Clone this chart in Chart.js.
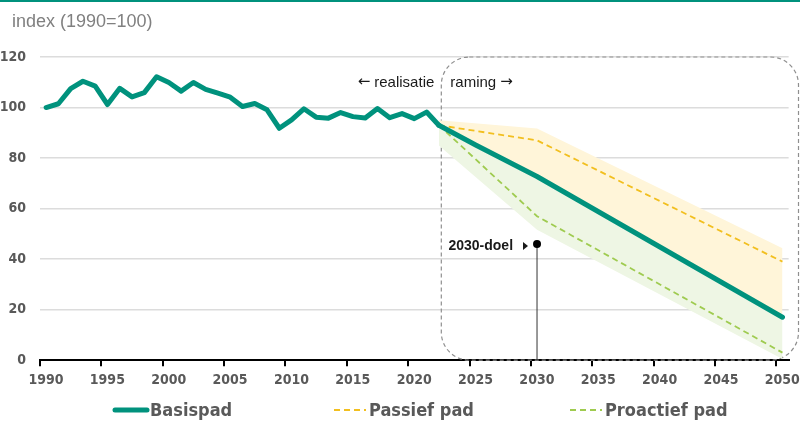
<!DOCTYPE html>
<html>
<head>
<meta charset="utf-8">
<script src="https://cdn.jsdelivr.net/npm/chart.js@4"></script>
<style>
  html, body { margin: 0; padding: 0; background: #fff; }
  canvas { display: block; }
</style>
</head>
<body>
<canvas id="chart" width="800" height="421"></canvas>
<script>
// realisatie 1990-2022
const histYears = [1990, 1991, 1992, 1993, 1994, 1995, 1996, 1997, 1998, 1999,
  2000, 2001, 2002, 2003, 2004, 2005, 2006, 2007, 2008, 2009,
  2010, 2011, 2012, 2013, 2014, 2015, 2016, 2017, 2018, 2019,
  2020, 2021, 2022];
const histValues = [100, 101.5, 107.5, 110.4, 108.5, 101.2, 107.6, 104.2, 105.9, 112.2,
  109.9, 106.5, 109.9, 107.2, 105.7, 104.1, 100.4, 101.6, 99.1, 91.8,
  95.1, 99.5, 96.2, 95.8, 98.0, 96.4, 95.9, 99.6, 96.0, 97.6,
  95.6, 98.2, 93.0];

// raming
const projYears = [2022, 2025, 2030, 2050];
const basisValues = [93, 85.2, 72.7, 17];
const scenYears = [2022, 2030, 2050];
const passiefValues = [93, 87, 39];
const proactiefValues = [93, 57, 3];
const passiefUpper = [95, 91.7, 44.3];
const proactiefLower = [85, 51.6, 0.5];

const doelYear = 2030;
const doelValue = 46;

const tickYears = [1990, 1995, 2000, 2005, 2010, 2015, 2020, 2025, 2030, 2035, 2040, 2045, 2050];

const TEAL = '#00927d';
const YELLOW = '#f2bf1f';
const GREEN = '#9fcb50';
const NARROW = "'Liberation Sans Narrow', 'DejaVu Sans Condensed', 'Arial Narrow', sans-serif";
const SANS = "'Liberation Sans', Arial, sans-serif";

function pts(xs, ys) {
  return xs.map((x, i) => ({ x: x, y: ys[i] }));
}

const decor = {
  id: 'decor',
  beforeDatasetsDraw(chart) {
    // dashed rounded box around the raming
    const ctx = chart.ctx;
    const xs = chart.scales.x, ys = chart.scales.y;
    const l = xs.getPixelForValue(2022.2);
    const r = chart.width - 1.5;
    const t = ys.getPixelForValue(120);
    const b = ys.getPixelForValue(0);
    const rad = 28;
    ctx.save();
    ctx.strokeStyle = '#8f8f8f';
    ctx.lineWidth = 1.2;
    ctx.setLineDash([4, 3]);
    ctx.beginPath();
    ctx.moveTo(l + rad, t);
    ctx.arcTo(r, t, r, b, rad);
    ctx.arcTo(r, b, l, b, rad);
    ctx.arcTo(l, b, l, t, rad);
    ctx.arcTo(l, t, r, t, rad);
    ctx.closePath();
    ctx.stroke();
    ctx.restore();
  },
  afterDraw(chart) {
    const ctx = chart.ctx;
    const xs = chart.scales.x, ys = chart.scales.y;
    ctx.save();

    // top rule
    ctx.fillStyle = TEAL;
    ctx.fillRect(0, 0, chart.width, 2);

    // title
    ctx.fillStyle = '#808080';
    ctx.font = '18px ' + SANS;
    ctx.textBaseline = 'middle';
    ctx.textAlign = 'left';
    ctx.fillText('index (1990=100)', 12, 22);

    // realisatie / raming
    const bx = xs.getPixelForValue(2022.2);
    ctx.fillStyle = '#1a1a1a';
    ctx.font = '15px ' + SANS;
    ctx.textAlign = 'right';
    ctx.fillText('realisatie', bx - 7, 83);
    const w1 = ctx.measureText('realisatie').width;
    ctx.textAlign = 'left';
    ctx.fillText('raming', bx + 9, 83);
    const w2 = ctx.measureText('raming ').width;
    ctx.font = '15px "DejaVu Sans", sans-serif';
    ctx.textAlign = 'right';
    ctx.fillText('\u2190', bx - 11 - w1, 82);
    ctx.textAlign = 'left';
    ctx.fillText('\u2192', bx + 9 + w2, 82);

    // 2030-doel label
    const dx = xs.getPixelForValue(doelYear);
    const dy = ys.getPixelForValue(doelValue);
    ctx.font = 'bold 14px ' + SANS;
    ctx.textAlign = 'right';
    ctx.fillText('2030-doel', dx - 24, dy + 2);
    ctx.beginPath();
    ctx.moveTo(dx - 14, dy - 2);
    ctx.lineTo(dx - 9, dy + 2);
    ctx.lineTo(dx - 14, dy + 6);
    ctx.closePath();
    ctx.fill();

    // legend
    const items = [0, 2, 3];
    const lx = [113, 332, 568];
    const ly = 410;
    ctx.font = 'bold 18px ' + NARROW;
    ctx.textAlign = 'left';
    items.forEach((di, i) => {
      const ds = chart.data.datasets[di];
      ctx.strokeStyle = ds.borderColor;
      ctx.lineWidth = ds.borderWidth;
      ctx.setLineDash(ds.borderDash || []);
      ctx.lineCap = ds.borderDash ? 'butt' : 'round';
      ctx.beginPath();
      ctx.moveTo(lx[i] + 2, ly);
      ctx.lineTo(lx[i] + 34, ly);
      ctx.stroke();
      ctx.fillStyle = '#595959';
      ctx.fillText(ds.label, lx[i] + 37, ly + 1);
    });
    ctx.restore();
  }
};

new Chart(document.getElementById('chart'), {
  type: 'line',
  data: {
    datasets: [
      {
        label: 'Basispad',
        data: pts(histYears, histValues),
        borderColor: TEAL,
        borderWidth: 5,
        borderCapStyle: 'round',
        borderJoinStyle: 'round',
        pointRadius: 0
      },
      {
        label: 'Basispad raming',
        data: pts(projYears, basisValues),
        borderColor: TEAL,
        borderWidth: 5,
        borderCapStyle: 'round',
        borderJoinStyle: 'round',
        pointRadius: 0
      },
      {
        label: 'Passief pad',
        data: pts(scenYears, passiefValues),
        borderColor: YELLOW,
        borderWidth: 1.8,
        borderDash: [6, 4],
        pointRadius: 0
      },
      {
        label: 'Proactief pad',
        data: pts(scenYears, proactiefValues),
        borderColor: GREEN,
        borderWidth: 1.8,
        borderDash: [6, 4],
        pointRadius: 0
      },
      {
        label: 'band passief',
        data: pts(scenYears, passiefUpper),
        borderWidth: 0,
        backgroundColor: '#fff5d9',
        fill: 1,
        pointRadius: 0
      },
      {
        label: 'band proactief',
        data: pts(scenYears, proactiefLower),
        borderWidth: 0,
        backgroundColor: '#eef6e4',
        fill: 1,
        pointRadius: 0
      },
      {
        label: '2030-doel',
        data: [{ x: doelYear, y: 0 }, { x: doelYear, y: doelValue }],
        borderColor: '#333333',
        borderWidth: 1,
        pointRadius: [0, 4],
        pointBackgroundColor: '#000',
        pointBorderWidth: 0
      }
    ]
  },
  options: {
    responsive: false,
    animation: false,
    devicePixelRatio: 1,
    layout: { padding: { left: 0, right: 8, top: 57, bottom: 26 } },
    plugins: {
      legend: { display: false },
      tooltip: { enabled: false }
    },
    scales: {
      x: {
        type: 'linear',
        min: 1989.5,
        max: 2050.5,
        afterBuildTicks: (axis) => {
          axis.ticks = tickYears.map(y => ({ value: y - 0.5 }));
        },
        grid: {
          drawOnChartArea: false,
          drawTicks: true,
          tickLength: 6,
          color: '#000',
          lineWidth: 2
        },
        border: { display: true, color: '#000', width: 2 },
        ticks: {
          autoSkip: false,
          maxRotation: 0,
          padding: 6,
          labelOffset: 6,
          color: '#595959',
          font: { family: NARROW, size: 14, weight: 'bold' },
          callback: (v) => String(v + 0.5)
        }
      },
      y: {
        min: 0,
        max: 120,
        afterFit: (axis) => { axis.width = 40; },
        grid: { color: '#dcdcdc', lineWidth: 1.5, drawTicks: false },
        border: { display: false },
        ticks: {
          stepSize: 20,
          padding: 14,
          color: '#595959',
          font: { family: NARROW, size: 14, weight: 'bold' }
        }
      }
    }
  },
  plugins: [decor]
});
</script>
</body>
</html>
